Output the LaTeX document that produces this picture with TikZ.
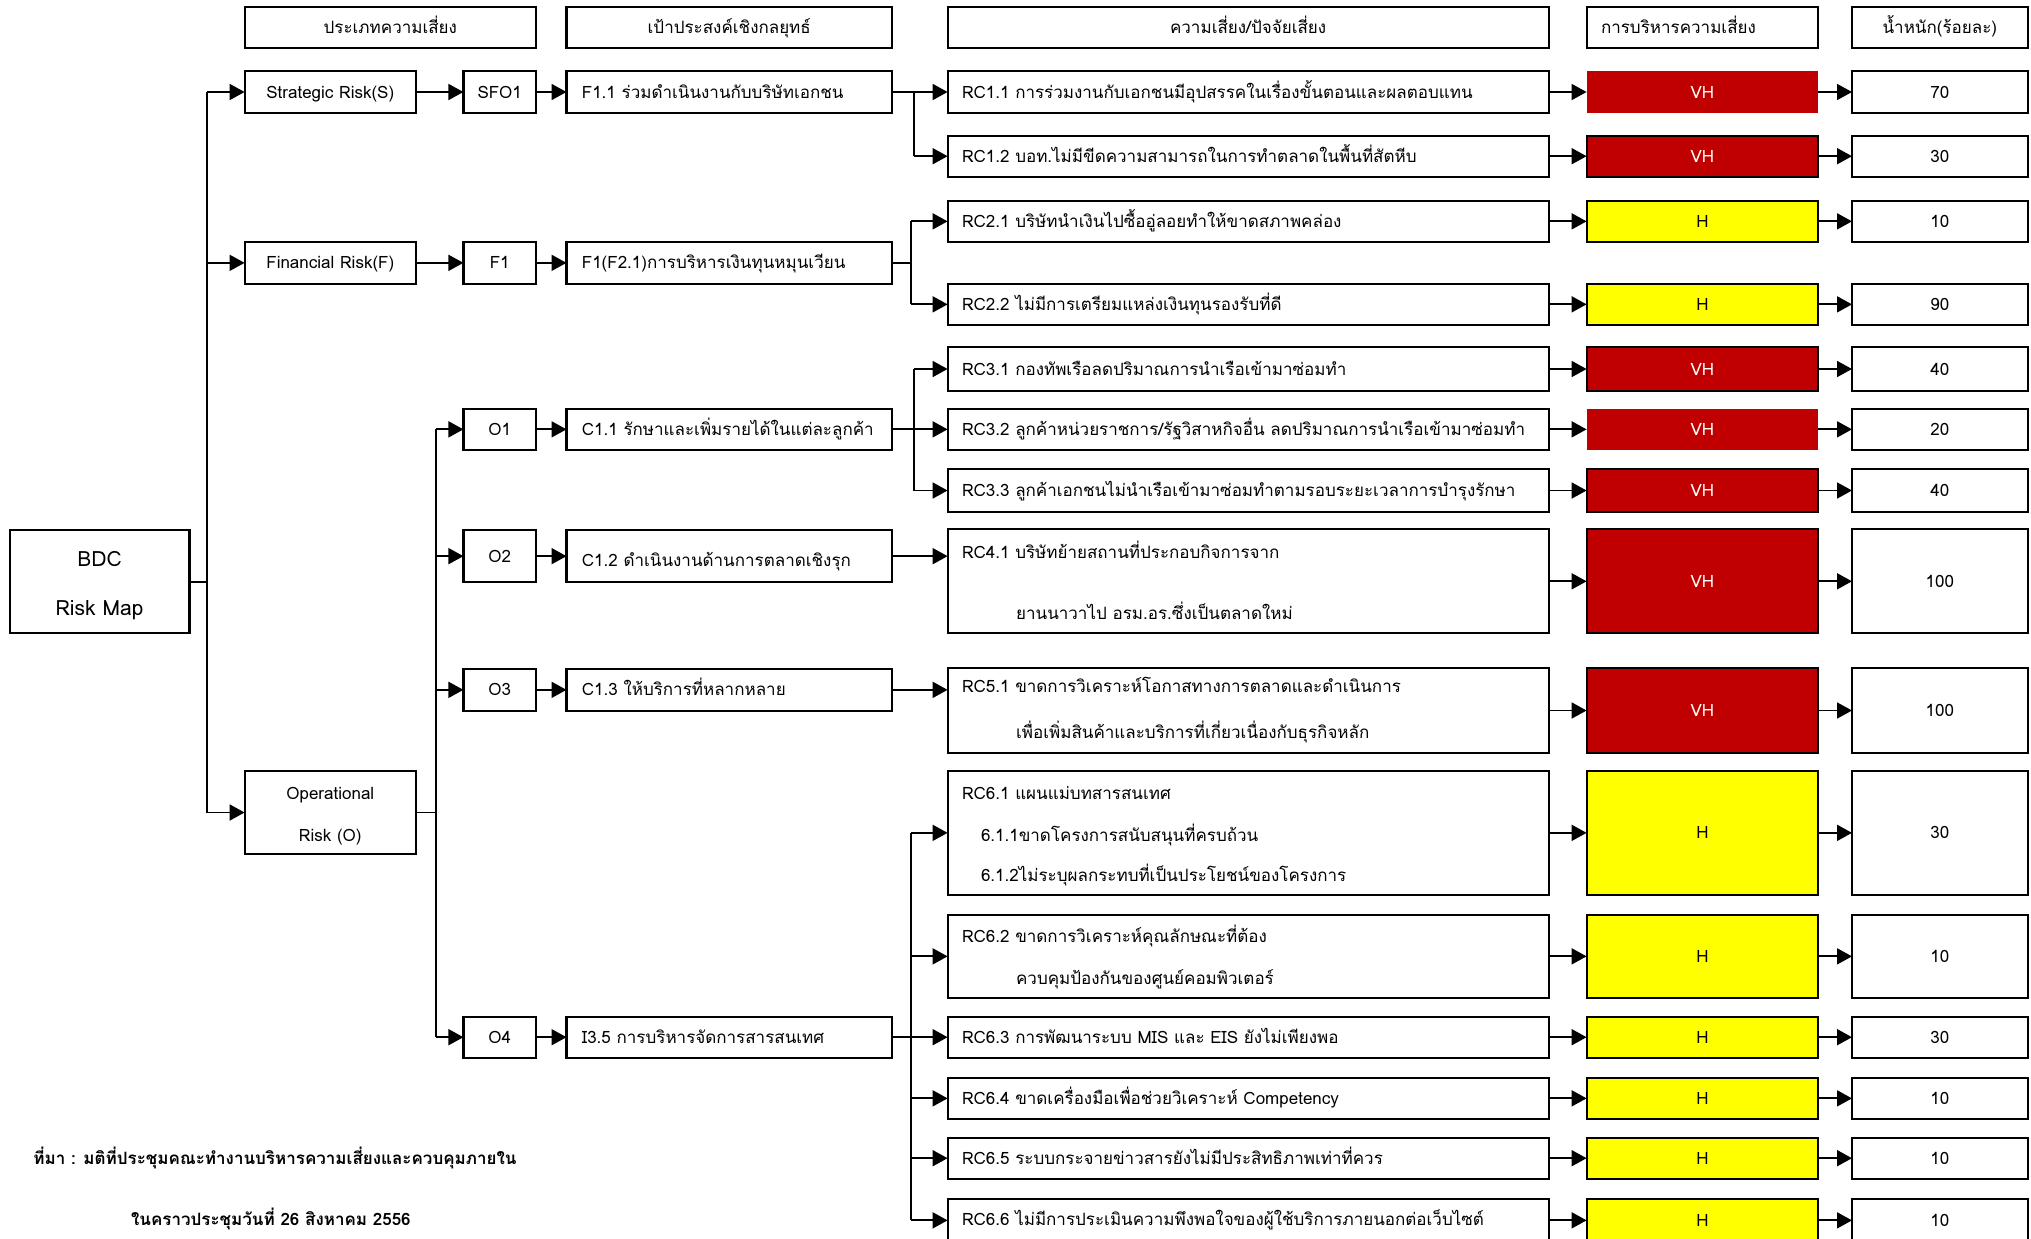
\documentclass[tikz,border=0pt]{standalone}
\usepackage{fontspec}
\setmainfont[Script=Thai]{Loma}
\usetikzlibrary{arrows.meta,fit}
\definecolor{vhred}{RGB}{192,0,0}
\definecolor{hyel}{RGB}{255,255,0}
\begin{document}
\begin{tikzpicture}[x=0.5pt,y=-0.5pt,
  mfont/.style={font=\fontsize{8.5}{10}\selectfont},
  fixh/.style={text height=6pt, text depth=0pt},
  box/.style={draw, line width=1.1pt, inner sep=0pt, outer sep=0pt, mfont},
  ct/.style={label={[mfont, fixh, inner sep=0pt]center:#1}},
  vh/.style={box, fill=vhred, label={[mfont, fixh, inner sep=0pt, text=white]center:VH}},
  vhnb/.style={vh, draw=none},
  hb/.style={box, fill=hyel, label={[mfont, fixh, inner sep=0pt]center:H}},
  conn/.style={line width=0.9pt},
  arr/.style={conn, -{Triangle[length=7.5pt,width=8pt]}},
  txt/.style={anchor=west, inner sep=0pt, mfont, fixh},
]
\useasboundingbox (0,0) rectangle (2031,1238);
\clip (0,0) rectangle (2031,1238);

% headers
\node[box, ct={ประเภทความเสี่ยง}, fit={(244.6,6.7)(536,48.3)}] (h1) {};
\node[box, ct={เป้าประสงค์เชิงกลยุทธ์}, fit={(566.5,6.7)(892,48.3)}] (h2) {};
\node[box, ct={ความเสี่ยง/ปัจจัยเสี่ยง}, fit={(947.6,6.7)(1548.7,48.3)}] (h3) {};
\node[box, label={[mfont, fixh, inner sep=0pt, xshift=-12pt]center:การบริหารความเสี่ยง}, fit={(1586.6,6.7)(1818.3,48.3)}] (h4) {};
\node[box, ct={น้ำหนัก(ร้อยละ)}, fit={(1852,6.7)(2027.6,48.3)}] (h5) {};

% BDC
\node[box, fit={(9.6,530)(189.4,633.3)}] (bdc) {};
\node[font=\fontsize{10.5}{12}\selectfont, inner sep=0pt] (bdct1) at (99.5,559) {BDC};
\node[font=\fontsize{10.5}{12}\selectfont, inner sep=0pt] (bdct2) at (99.5,610) {Risk Map};

% risk types
\node[box, ct={Strategic Risk(S)}, fit={(244.6,70.7)(416,113.3)}] (strat) {};
\node[box, ct={Financial Risk(F)}, fit={(244.6,241.7)(416,284)}] (fin) {};
\node[box, fit={(244.6,770.7)(416,854.3)}] (op) {};
\node[inner sep=0pt, mfont, fixh] (opt1) at (330.3,793.3) {Operational};
\node[inner sep=0pt, mfont, fixh] (opt2) at (330.3,835) {Risk (O)};

% codes
\node[box, ct={SFO1}, fit={(463.4,70.7)(536,113.3)}] (sfo) {};
\node[box, ct={F1}, fit={(463.4,241.7)(536,284)}] (f1) {};
\node[box, ct={O1}, fit={(463.4,408.7)(536,450)}] (o1) {};
\node[box, ct={O2}, fit={(463.4,530)(536,582.3)}] (o2) {};
\node[box, ct={O3}, fit={(463.4,669)(536,710.7)}] (o3) {};
\node[box, ct={O4}, fit={(463.4,1016.7)(536,1057.7)}] (o4) {};

% objectives
\node[box, fit={(566.5,70.7)(892,113.3)}] (f11) {};
\node[box, fit={(566.5,241.7)(892,284)}] (f1f) {};
\node[box, fit={(566.5,408.7)(892,450)}] (c11) {};
\node[box, fit={(566.5,530)(892,582.3)}] (c12) {};
\node[box, fit={(566.5,669)(892,710.7)}] (c13) {};
\node[box, fit={(566.5,1016.7)(892,1057.7)}] (i35) {};
\node[txt] (f11t) at (581.5,92) {F1.1 ร่วมดำเนินงานกับบริษัทเอกชน};
\node[txt] (f1ft) at (581.5,262.9) {F1(F2.1)การบริหารเงินทุนหมุนเวียน};
\node[txt] (c11t) at (581.5,429.4) {C1.1 รักษาและเพิ่มรายได้ในแต่ละลูกค้า};
\node[txt] (c12t) at (581.5,560) {C1.2 ดำเนินงานด้านการตลาดเชิงรุก};
\node[txt] (c13t) at (581.5,689.9) {C1.3 ให้บริการที่หลากหลาย};
\node[txt] (i35t) at (581.5,1037.2) {I3.5 การบริหารจัดการสารสนเทศ};

% risk rows
\foreach \n/\ya/\yb/\st/\w in {
  11/70.7/113.3/vhnb/70,
  12/135.7/176.7/vh/30,
  21/200.7/242/hb/10,
  22/283.7/325/hb/90,
  31/347.3/390.7/vh/40,
  32/408.7/450/vhnb/20,
  33/469.3/511.7/vh/40,
  41/529.3/633.3/vh/100,
  51/668.3/752.7/vh/100,
  61/770.7/895/hb/30,
  62/914.7/998/hb/10,
  63/1016.7/1057.7/hb/30,
  64/1077.7/1119/hb/10,
  65/1137.7/1178.7/hb/10,
  66/1198.7/1242/hb/10}{
  \node[box, fit={(947.6,\ya)(1548.7,\yb)}] (rc\n) {};
  \node[\st, fit={(1586.6,\ya)(1818.3,\yb)}] (vh\n) {};
  \node[box, ct={\w}, fit={(1852,\ya)(2027.6,\yb)}] (w\n) {};
  \draw[arr] (rc\n) -- (vh\n);
  \draw[arr] (vh\n) -- (w\n);
}

% risk texts
\node[txt] (t11) at (961.6,92) {RC1.1 การร่วมงานกับเอกชนมีอุปสรรคในเรื่องขั้นตอนและผลตอบแทน};
\node[txt] (t12) at (961.6,156.2) {RC1.2 บอท.ไม่มีขีดความสามารถในการทำตลาดในพื้นที่สัตหีบ};
\node[txt] (t21) at (961.6,221.4) {RC2.1 บริษัทนำเงินไปซื้ออู่ลอยทำให้ขาดสภาพคล่อง};
\node[txt] (t22) at (961.6,304.4) {RC2.2 ไม่มีการเตรียมแหล่งเงินทุนรองรับที่ดี};
\node[txt] (t31) at (961.6,369) {RC3.1 กองทัพเรือลดปริมาณการนำเรือเข้ามาซ่อมทำ};
\node[txt] (t32) at (961.6,429.4) {RC3.2 ลูกค้าหน่วยราชการ/รัฐวิสาหกิจอื่น ลดปริมาณการนำเรือเข้ามาซ่อมทำ};
\node[txt] (t33) at (961.6,490.5) {RC3.3 ลูกค้าเอกชนไม่นำเรือเข้ามาซ่อมทำตามรอบระยะเวลาการบำรุงรักษา};
\node[txt] (t41a) at (961.6,552.7) {RC4.1 บริษัทย้ายสถานที่ประกอบกิจการจาก};
\node[txt] (t41b) at (1015.7,613.3) {ยานนาวาไป อรม.อร.ซึ่งเป็นตลาดใหม่};
\node[txt] (t51a) at (961.6,686.7) {RC5.1 ขาดการวิเคราะห์โอกาสทางการตลาดและดำเนินการ};
\node[txt] (t51b) at (1015.7,732.7) {เพื่อเพิ่มสินค้าและบริการที่เกี่ยวเนื่องกับธุรกิจหลัก};
\node[txt] (t61a) at (961.6,793.3) {RC6.1 แผนแม่บทสารสนเทศ};
\node[txt] (t61b) at (980.6,835) {6.1.1ขาดโครงการสนับสนุนที่ครบถ้วน};
\node[txt] (t61c) at (980.6,875) {6.1.2ไม่ระบุผลกระทบที่เป็นประโยชน์ของโครงการ};
\node[txt] (t62a) at (961.6,936.7) {RC6.2 ขาดการวิเคราะห์คุณลักษณะที่ต้อง};
\node[txt] (t62b) at (1015.7,978.3) {ควบคุมป้องกันของศูนย์คอมพิวเตอร์};
\node[txt] (t63) at (961.6,1037.2) {RC6.3 การพัฒนาระบบ MIS และ EIS ยังไม่เพียงพอ};
\node[txt] (t64) at (961.6,1098.4) {RC6.4 ขาดเครื่องมือเพื่อช่วยวิเคราะห์ Competency};
\node[txt] (t65) at (961.6,1158.2) {RC6.5 ระบบกระจายข่าวสารยังไม่มีประสิทธิภาพเท่าที่ควร};
\node[txt] (t66) at (961.6,1219.3) {RC6.6 ไม่มีการประเมินความพึงพอใจของผู้ใช้บริการภายนอกต่อเว็บไซต์};

% footnote
\node[txt, font=\fontsize{8.5}{10}\selectfont\bfseries] (n1) at (33,1158) {ที่มา : มติที่ประชุมคณะทำงานบริหารความเสี่ยงและควบคุมภายใน};
\node[txt, font=\fontsize{8.5}{10}\selectfont\bfseries] (n2) at (130.7,1219) {ในคราวประชุมวันที่ 26 สิงหาคม 2556};

% connectors: left bus
\coordinate (bL) at (206.8,0);
\draw[conn] (bdc.east) -- (bdc.east -| bL);
\draw[conn] (bL |- strat) -- (bL |- op);
\draw[arr] (bL |- strat) -- (strat);
\draw[arr] (bL |- fin) -- (fin);
\draw[arr] (bL |- op) -- (op);

\draw[arr] (strat) -- (sfo);
\draw[arr] (sfo) -- (f11);
\draw[arr] (fin) -- (f1);
\draw[arr] (f1) -- (f1f);

% operational bus
\coordinate (bO) at (435.8,0);
\draw[conn] (op.east) -- (op.east -| bO);
\draw[conn] (bO |- o1) -- (bO |- o4);
\foreach \k in {1,2,3,4} {\draw[arr] (bO |- o\k) -- (o\k);}
\draw[arr] (o1) -- (c11);
\draw[arr] (o2) -- (c12);
\draw[arr] (o3) -- (c13);
\draw[arr] (o4) -- (i35);

% objective -> risks
\coordinate (bF) at (914,0);
\draw[conn] (f11.east) -- (bF |- f11) -- (bF |- rc12);
\draw[arr] (bF |- rc11) -- (rc11);
\draw[arr] (bF |- rc12) -- (rc12);

\coordinate (bF2) at (911,0);
\draw[conn] (f1f.east) -- (bF2 |- f1f);
\draw[conn] (bF2 |- rc21) -- (bF2 |- rc22);
\draw[arr] (bF2 |- rc21) -- (rc21);
\draw[arr] (bF2 |- rc22) -- (rc22);

\coordinate (bC) at (914,0);
\draw[conn] (c11.east) -- (bC |- c11);
\draw[conn] (bC |- rc31) -- (bC |- rc33);
\draw[arr] (bC |- rc31) -- (rc31);
\draw[arr] (bC |- rc32) -- (rc32);
\draw[arr] (bC |- rc33) -- (rc33);

\draw[arr] (c12.east) -- (c12.east -| rc41.west);
\draw[arr] (c13.east) -- (c13.east -| rc51.west);

\coordinate (bI) at (911,0);
\draw[conn] (i35.east) -- (bI |- i35);
\draw[conn] (bI |- rc61) -- (bI |- rc66);
\foreach \k in {61,62,63,64,65,66} {\draw[arr] (bI |- rc\k) -- (rc\k);}
\end{tikzpicture}
\end{document}
